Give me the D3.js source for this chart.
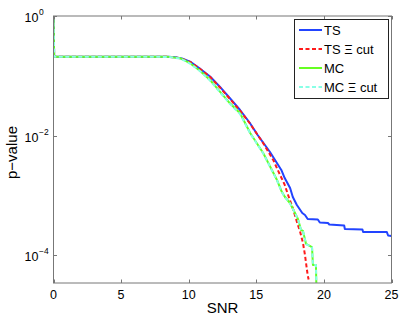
<!DOCTYPE html>
<html lang="en">
<head>
  <meta charset="UTF-8" />
  <title>p-value vs SNR</title>
  <script src="https://d3js.org/d3.v7.min.js"></script>
  <style>
    body { margin: 0; background: #fff; font-family: 'Liberation Sans', Arial, sans-serif; }
    svg { display: block; }
    .tick-label { font-size: 12.5px; fill: #000; }
    .axis-label { font-size: 15px; fill: #000; }
    .legend text { font-size: 13px; fill: #000; }
  </style>
</head>
<body>
  <svg width="403" height="319"></svg>

  <script>
    // TS
    const snrTS = [0, 0.05, 7.9, 8.5, 9.0, 9.5, 10.1, 10.8, 11.6, 12.3, 13.05, 13.8, 14.5, 15.1, 16.0, 16.85,
      17.1, 17.5, 17.7, 18.0, 18.1, 18.4, 18.6, 18.8, 19.55, 19.7, 20.3, 20.4, 21.5, 21.55, 22.85, 22.9, 24.65, 24.75, 25];
    const pTS = [1, 0.208, 0.208, 0.207, 0.204, 0.194, 0.172, 0.133, 0.0964, 0.0656, 0.042, 0.0267, 0.0165, 0.0102, 0.00535, 0.00265,
      0.00194, 0.00132, 0.000935, 0.000687, 0.000636, 0.000504, 0.000467, 0.0004, 0.000393, 0.00035, 0.000343, 0.000324, 0.000312,
      0.000272, 0.000267, 0.000243, 0.000243, 0.000212, 0.000208];

    // TS Xi cut
    const snrTScut = [0, 0.05, 7.9, 8.5, 9.0, 9.5, 10.1, 10.8, 11.6, 12.3, 13.05, 13.8, 14.5, 15.5, 16.25, 16.75,
      17.1, 17.35, 17.7, 18.0, 18.25, 18.45, 18.6, 18.8, 18.87];
    const pTScut = [1, 0.208, 0.208, 0.207, 0.203, 0.192, 0.171, 0.132, 0.095, 0.064, 0.041, 0.026, 0.0162, 0.0075, 0.0039, 0.0022,
      0.0015, 0.00101, 0.00061, 0.00036, 0.00024, 0.00016, 0.0001, 0.000046, 0.000039];

    // MC
    const snrMC = [0, 0.05, 7.9, 8.5, 9.4, 10.1, 10.83, 11.58, 12.31, 13.05, 13.8, 14.56, 15.52, 16.53, 16.88,
      17.12, 17.49, 17.86, 18.08, 18.31, 18.45, 18.68, 19.12, 19.19, 19.41, 19.49];
    const pMC = [1, 0.208, 0.208, 0.207, 0.196, 0.162, 0.1215, 0.0849, 0.0541, 0.0346, 0.0235, 0.0109, 0.00504, 0.0018, 0.00115,
      0.000935, 0.000742, 0.000504, 0.0004, 0.000262, 0.000253, 0.000153, 0.000136, 0.000068, 0.000068, 0.00001];

    // MC Xi cut
    const snrMCcut = [0, 0.05, 7.9, 8.5, 9.4, 10.1, 10.83, 11.58, 12.31, 13.05, 13.8, 14.56, 15.52, 16.53, 16.88,
      17.12, 17.49, 17.86, 18.08, 18.31, 18.45, 18.68, 19.12, 19.19, 19.41, 19.49];
    const pMCcut = [1, 0.207, 0.207, 0.206, 0.194, 0.16, 0.12, 0.083, 0.053, 0.0338, 0.0229, 0.0107, 0.00498, 0.00178, 0.00114,
      0.000925, 0.000735, 0.0005, 0.000398, 0.00026, 0.000251, 0.000152, 0.000135, 0.000068, 0.000068, 0.00001];

    const xTicks = [0, 5, 10, 15, 20, 25];
    const yTicks = [1, 1e-2, 1e-4];
    const yExp = ["0", "\u22122", "\u22124"];

    const legendNames = ["TS", "TS \u039E cut", "MC", "MC \u039E cut"];

    const series = [
      { x: snrTS, y: pTS, color: "#2244ff", dash: null },
      { x: snrTScut, y: pTScut, color: "#ff1a1a", dash: "4,2.5" },
      { x: snrMC, y: pMC, color: "#66ff22", dash: null },
      { x: snrMCcut, y: pMCcut, color: "#88ffe6", dash: "4,2.5" }
    ];

    const padL = 53.5, padR = 391.5, padT = 16, padB = 283;

    const x = d3.scaleLinear().domain([0, 25]).range([padL, padR]);
    const y = d3.scaleLog().domain([3.4e-5, 1]).range([padB, padT]);

    const svg = d3.select("svg");

    svg.append("defs").append("clipPath").attr("id", "plot-clip")
      .append("rect")
      .attr("x", padL).attr("y", padT)
      .attr("width", padR - padL).attr("height", padB - padT);

    const line = d3.line()
      .x(d => x(d[0]))
      .y(d => y(d[1]));

    const plot = svg.append("g").attr("clip-path", "url(#plot-clip)");

    series.forEach(s => {
      const pts = s.x.map((v, i) => [v, s.y[i]]);
      plot.append("path")
        .datum(pts)
        .attr("d", line)
        .attr("fill", "none")
        .attr("stroke", s.color)
        .attr("stroke-width", 2)
        .attr("stroke-dasharray", s.dash)
        .attr("stroke-linejoin", "round");
    });

    // box
    svg.append("rect")
      .attr("x", padL).attr("y", padT)
      .attr("width", padR - padL).attr("height", padB - padT)
      .attr("fill", "none")
      .attr("stroke", "#777")
      .attr("stroke-width", 1);

    // x ticks (inward, top and bottom)
    xTicks.forEach(t => {
      const px = Math.round(x(t)) + 0.5;
      svg.append("line").attr("x1", px).attr("x2", px).attr("y1", padB).attr("y2", padB - 3.5)
        .attr("stroke", "#777");
      svg.append("line").attr("x1", px).attr("x2", px).attr("y1", padT).attr("y2", padT + 3.5)
        .attr("stroke", "#777");
      svg.append("text").attr("class", "tick-label")
        .attr("x", x(t)).attr("y", padB + 15.5)
        .attr("text-anchor", "middle")
        .text(t);
    });

    // y ticks
    yTicks.forEach((t, i) => {
      const py = Math.round(y(t)) + 0.5;
      svg.append("line").attr("x1", padL).attr("x2", padL + 3.5).attr("y1", py).attr("y2", py)
        .attr("stroke", "#777");
      svg.append("line").attr("x1", padR).attr("x2", padR - 3.5).attr("y1", py).attr("y2", py)
        .attr("stroke", "#777");
      svg.append("text").attr("class", "tick-label")
        .attr("x", 38.5).attr("y", y(t) + 6)
        .attr("text-anchor", "end")
        .text("10");
      svg.append("text").attr("class", "tick-label")
        .attr("x", 39).attr("y", y(t) - 1)
        .style("font-size", "8.5px")
        .text(yExp[i]);
    });

    // axis labels
    svg.append("text").attr("class", "axis-label")
      .attr("x", (padL + padR) / 2).attr("y", 313)
      .attr("text-anchor", "middle")
      .text("SNR");

    svg.append("text").attr("class", "axis-label")
      .attr("transform", `translate(17,${(padT + padB) / 2 + 3}) rotate(-90)`)
      .attr("text-anchor", "middle")
      .text("p\u2212value");

    // legend
    const lg = svg.append("g").attr("class", "legend");
    lg.append("rect")
      .attr("x", 294.5).attr("y", 19.5)
      .attr("width", 94).attr("height", 79)
      .attr("fill", "#fff")
      .attr("stroke", "#222");

    legendNames.forEach((name, i) => {
      const ly = 30 + i * 19;
      const s = series[i];
      lg.append("line")
        .attr("x1", 299).attr("x2", 322)
        .attr("y1", ly).attr("y2", ly)
        .attr("stroke", s.color)
        .attr("stroke-width", 2)
        .attr("stroke-dasharray", s.dash);
      lg.append("text")
        .attr("x", 324).attr("y", ly + 4.5)
        .text(name);
    });
  </script>
</body>
</html>
